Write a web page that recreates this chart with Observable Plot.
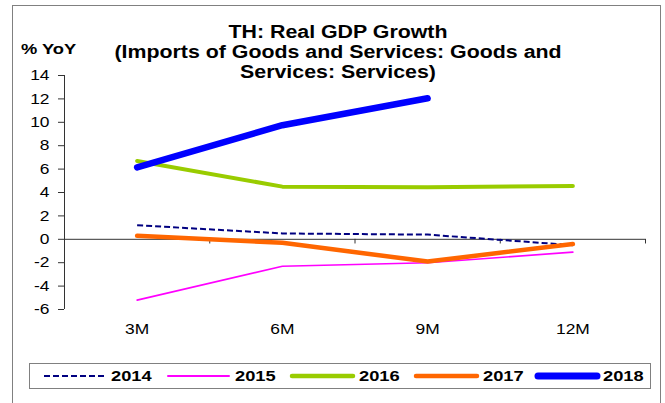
<!DOCTYPE html>
<html>
<head>
<meta charset="utf-8">
<script src="https://cdn.jsdelivr.net/npm/d3@7"></script>
<script src="https://cdn.jsdelivr.net/npm/@observablehq/plot@0.6"></script>
<style>
  html, body { margin: 0; padding: 0; background: #fff; }
  #wrap { position: relative; width: 665px; height: 403px; overflow: hidden; font-family: "Liberation Sans", Arial, sans-serif; }
  #frame { position: absolute; left: 12px; top: 5px; width: 649px; height: 420px; border: 1px solid #808080; box-sizing: border-box; }
  #title { position: absolute; left: 38px; top: 22px; width: 600px; text-align: center; font-weight: bold; font-size: 17.5px; line-height: 20px; color: #000; transform: scaleX(1.22); transform-origin: 300px 0; }
  #ylab { position: absolute; left: 21px; top: 40px; font-weight: bold; font-size: 15px; color: #000; transform: scaleX(1.22); transform-origin: 0 0; }
  #legend { position: absolute; left: 29px; top: 363px; width: 622px; height: 26px; border: 1px solid #808080; box-sizing: border-box; }
  #plot { position: absolute; left: 0; top: 0; }
  #plot svg text { font-size: 14.5px; }
</style>
</head>
<body>
<div id="wrap">
  <div id="frame"></div>
  <div id="plot"></div>
  <div id="title">TH: Real GDP Growth<br>(Imports of Goods and Services: Goods and<br>Services: Services)</div>
  <div id="ylab">% YoY</div>
  <div id="legend"></div>
</div>
<script>
const categories = ["3M", "6M", "9M", "12M"];
const years = ["2014", "2015", "2016", "2017", "2018"];
const v2014 = [1.2, 0.5, 0.4, -0.5];
const v2015 = [-5.2, -2.3, -2.0, -1.1];
const v2016 = [6.7, 4.5, 4.45, 4.55];
const v2017 = [0.3, -0.3, -1.9, -0.4];
const v2018 = [6.15, 9.75, 12.05];
const yTicks = [-6, -4, -2, 0, 2, 4, 6, 8, 10, 12, 14];

const colors = {"2014": "#000080", "2015": "#FF00FF", "2016": "#99CC00", "2017": "#FF6600", "2018": "#0000FF"};
const widths = {"2014": 2, "2015": 1.6, "2016": 4, "2017": 4.5, "2018": 6.5};
const dashes = {"2014": "6,3", "2015": null, "2016": null, "2017": null, "2018": null};

const seriesVals = {"2014": v2014, "2015": v2015, "2016": v2016, "2017": v2017, "2018": v2018};
const rows = [];
for (const yr of years) {
  seriesVals[yr].forEach((v, i) => rows.push({year: yr, i: i + 0.5, cat: categories[i], value: v}));
}

const lineMarks = years.map(yr => Plot.line(rows.filter(d => d.year === yr), {
  x: "i", y: "value",
  stroke: colors[yr], strokeWidth: widths[yr],
  strokeDasharray: dashes[yr] || undefined,
  strokeLinecap: yr === "2014" ? "butt" : "round",
  strokeLinejoin: "round"
}));

const chart = Plot.plot({
  width: 665, height: 403,
  marginLeft: 64, marginRight: 20, marginTop: 75, marginBottom: 94,
  style: {fontFamily: "Liberation Sans, Arial, sans-serif", fontSize: "14px", color: "#000", background: "transparent"},
  x: {domain: [0, categories.length]},
  y: {domain: [-6, 14]},
  marks: [
    Plot.axisY({ticks: yTicks, tickFormat: d => String(d), tickSize: 6, tickPadding: 9, label: null, stroke: "#333", fontSize: 14}),
    Plot.axisX({ticks: categories.map((c, i) => i + 0.5), tickFormat: d => categories[Math.floor(d)], tickSize: 0, tickPadding: 14, label: null, fontSize: 14}),
    Plot.ruleX([0], {y1: -6, y2: 14, stroke: "#333", strokeWidth: 1}),
    Plot.ruleY([0], {x1: 0, x2: categories.length, stroke: "#333", strokeWidth: 1}),
    Plot.ruleX(d3.range(1, categories.length + 1), {y1: 0, y2: -0.4, stroke: "#333", strokeWidth: 1}),
    ...lineMarks
  ]
});
document.getElementById("plot").appendChild(chart);
// horizontally stretched text, as in the reference (scaled about each text's anchor point)
d3.select(chart).selectAll("text").each(function() {
  const t = this.getAttribute("transform") || "";
  const px = +(this.getAttribute("x") || 0);
  this.setAttribute("transform", `${t} translate(${px},0) scale(1.2,1) translate(${-px},0)`);
});

// Legend
const lg = d3.select("#legend");
const svg = lg.append("svg").attr("width", 620).attr("height", 24).style("position", "absolute").style("left", 0).style("top", 0);
const itemX = [13, 137, 261, 385, 505];
years.forEach((yr, k) => {
  const x0 = itemX[k];
  svg.append("line")
    .attr("x1", x0 + (yr === "2018" ? 3 : 1)).attr("x2", x0 + 62).attr("y1", 12).attr("y2", 12)
    .attr("stroke", colors[yr])
    .attr("stroke-width", yr === "2018" ? 7 : (yr === "2015" ? 2 : (yr === "2014" ? 2 : 4.5)))
    .attr("stroke-dasharray", dashes[yr] || null)
    .attr("stroke-linecap", yr === "2014" ? "butt" : "round");
  const tx = x0 + 68;
  svg.append("text")
    .attr("x", tx).attr("y", 17.5)
    .attr("font-family", "Liberation Sans, Arial, sans-serif")
    .attr("font-weight", "bold").attr("font-size", 15)
    .attr("transform", `translate(${tx},0) scale(1.22,1) translate(${-tx},0)`)
    .text(yr);
});
</script>
</body>
</html>
